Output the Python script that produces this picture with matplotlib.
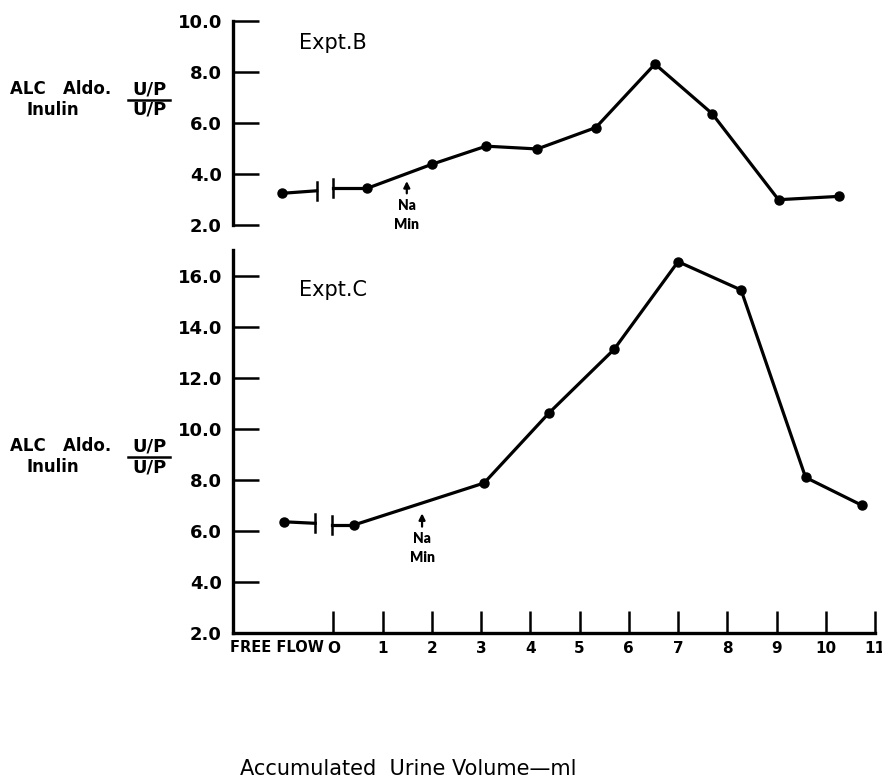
import matplotlib
matplotlib.use('Agg')
import matplotlib.pyplot as plt
from matplotlib.lines import Line2D

# ---------------- data ----------------
# Expt. B (top panel); first point = "free flow"
top_x = [-1.05, 0.69, 2.00, 3.10, 4.14, 5.33, 6.53, 7.69, 9.04, 10.26]
top_y = [3.23, 3.43, 4.37, 5.08, 4.97, 5.81, 8.30, 6.36, 2.98, 3.11]
top_break_x = [-0.34, 0.00]
top_break_y = [3.33, 3.43]
top_arrow = (1.49, 3.23, 3.71)

# Expt. C (bottom panel)
bot_x = [-1.01, 0.41, 3.06, 4.38, 5.70, 7.00, 8.28, 9.59, 10.74]
bot_y = [6.35, 6.22, 7.87, 10.62, 13.11, 16.55, 15.44, 8.09, 6.99]
bot_break_x = [-0.37, -0.03]
bot_break_y = [6.29, 6.22]
bot_arrow = (1.80, 6.16, 6.68)

x_ticks = list(range(12))
x_tick_labels = ['O', '1', '2', '3', '4', '5', '6', '7', '8', '9', '10', '11']
top_yticks = [2, 4, 6, 8, 10]
top_ytick_labels = ['2.0', '4.0', '6.0', '8.0', '10.0']
bot_yticks = [2, 4, 6, 8, 10, 12, 14, 16]
bot_ytick_labels = ['2.0', '4.0', '6.0', '8.0', '10.0', '12.0', '14.0', '16.0']

# ---------------- style ----------------
plt.rcParams['font.family'] = ['DejaVu Sans']
LW = 2.3
MS = 6.5
W_PX, H_PX = 882, 783

fig = plt.figure(figsize=(W_PX / 100, H_PX / 100), dpi=100)
left = 233 / W_PX
width = (875 - 233) / W_PX
ax1 = fig.add_axes([left, 1 - 224.7 / H_PX, width, 204 / H_PX])
ax2 = fig.add_axes([left, 1 - 632.7 / H_PX, width, 382.5 / H_PX])


def draw_panel(ax, xs, ys, bx, by, arrow, title, title_y, ylim, yticks, ylabels, show_x):
    ax.set_xlim(-2.04, 11.0)
    ax.set_ylim(*ylim)
    for s in ['top', 'right']:
        ax.spines[s].set_visible(False)
    ax.spines['left'].set_linewidth(2.4)
    if show_x:
        ax.spines['bottom'].set_linewidth(2.4)
        ax.set_xticks(x_ticks)
        ax.set_xticklabels(x_tick_labels, fontsize=11, fontweight='bold')
        ax.tick_params(axis='x', direction='in', length=16, width=1.8, pad=6)
        t = ax.text(-1.14, ylim[0], 'FREE FLOW', fontsize=10.5, fontweight='bold',
                    ha='center', va='top', clip_on=False)
        t.set_y(ylim[0] - 0.3)
    else:
        ax.spines['bottom'].set_visible(False)
        ax.set_xticks([])
    ax.set_yticks(yticks)
    ax.set_yticklabels(ylabels, fontsize=13, fontweight='bold')
    ax.tick_params(axis='y', direction='in', length=19, width=1.8, pad=8)

    # main curve
    ax.plot(xs[1:], ys[1:], color='black', lw=LW, marker='o', ms=MS, zorder=3,
            clip_on=False)
    # free-flow point and broken segment
    ax.plot([xs[0], bx[0]], [ys[0], by[0]], color='black', lw=LW, zorder=3)
    ax.plot([xs[0]], [ys[0]], 'o', color='black', ms=MS, zorder=3)
    ax.plot([bx[1], xs[1]], [by[1], ys[1]], color='black', lw=LW, zorder=3)
    for bxx, byy in zip(bx, by):
        ax.plot([bxx, bxx], [byy - 0.36, byy + 0.36], color='black', lw=1.8, zorder=3)

    # Na Min arrow
    ax.annotate('', xy=(arrow[0], arrow[2]), xytext=(arrow[0], arrow[1]),
                arrowprops=dict(arrowstyle='-|>', lw=1.6, color='black',
                                mutation_scale=9, shrinkA=0, shrinkB=0))
    ax.text(arrow[0], arrow[1] - 0.22, 'Na', fontsize=10, fontweight='heavy',
            family=['Lato', 'DejaVu Sans'], ha='center', va='top')
    ax.text(arrow[0], arrow[1] - 0.95, 'Min', fontsize=10, fontweight='heavy',
            family=['Lato', 'DejaVu Sans'], ha='center', va='top', clip_on=False)

    ax.text(-0.70, title_y, title, fontsize=15, ha='left', va='center')


draw_panel(ax1, top_x, top_y, top_break_x, top_break_y, top_arrow,
           'Expt.B', 9.13, (2, 10), top_yticks, top_ytick_labels, False)
draw_panel(ax2, bot_x, bot_y, bot_break_x, bot_break_y, bot_arrow,
           'Expt.C', 15.44, (2, 17), bot_yticks, bot_ytick_labels, True)


def fx(px):
    return px / W_PX


def fy(py):
    return 1 - py / H_PX


def ylabel_block(yc):
    fig.text(fx(10), fy(yc), 'ALC   Aldo.', fontsize=12, fontweight='bold',
             ha='left', va='center')
    fig.text(fx(26), fy(yc + 21), 'Inulin', fontsize=12, fontweight='bold',
             ha='left', va='center')
    fig.text(fx(149), fy(yc), 'U/P', fontsize=13, fontweight='bold',
             ha='center', va='center')
    fig.text(fx(149), fy(yc + 21), 'U/P', fontsize=13, fontweight='bold',
             ha='center', va='center')
    fig.add_artist(Line2D([fx(128), fx(170)], [fy(yc + 10.5), fy(yc + 10.5)],
                          color='black', lw=1.8, transform=fig.transFigure))


ylabel_block(89)
ylabel_block(446.5)

fig.text(fx(408), fy(769), 'Accumulated  Urine Volume\u2014ml', fontsize=15,
         ha='center', va='center')

fig.savefig('out.png', dpi=100)
